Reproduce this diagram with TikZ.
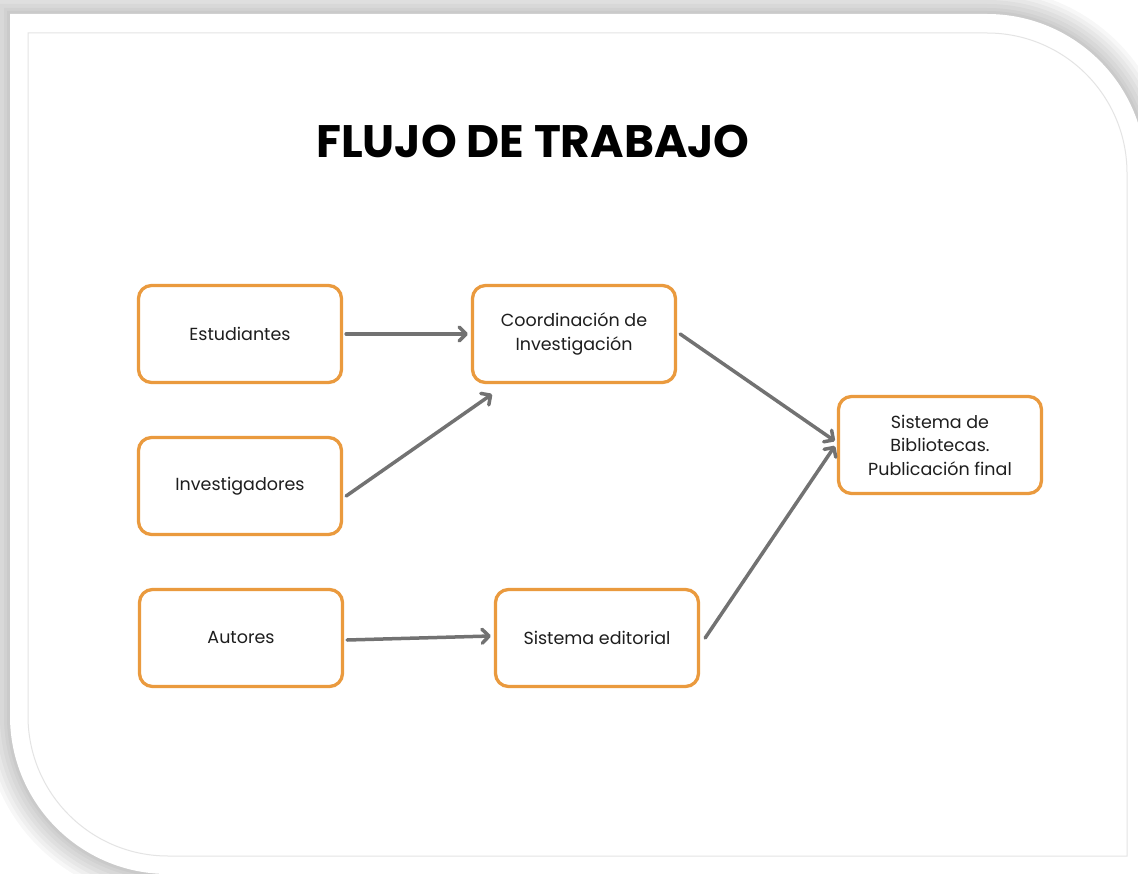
\documentclass[tikz,border=0pt]{standalone}
\usepackage{fontspec}
\setmainfont{Poppins}
\usetikzlibrary{arrows.meta}
\definecolor{boxorange}{HTML}{EA9A3E}
\definecolor{arrowgray}{HTML}{727272}
\definecolor{txtdark}{HTML}{1E1E1E}
\definecolor{innerline}{HTML}{E4E4E4}
\tikzset{
  flowbox/.style={draw=boxorange, line width=3.3pt, rounded corners=13pt,
    minimum width=203pt, minimum height=97pt, inner sep=0pt, align=center,
    font=\fontsize{17.5}{23.5}\selectfont, text=txtdark, fill=white},
  flowarrow/.style={draw=arrowgray, line width=3.5pt, line cap=round,
    -{Straight Barb[length=7pt,width=14pt,round]}},
  titletext/.style={font=\fontsize{45.5}{52}\selectfont\bfseries, text=black},
}
\newcommand\cardshape[1]{({10-#1},{14-#1}) -- (987,{14-#1})
  arc[start angle=90,end angle=0,radius={(159+#1)*1pt}]
  -- ({1146+#1},{874+#1}) -- (168,{874+#1})
  arc[start angle=-90,end angle=-180,radius={(158+#1)*1pt}] -- cycle}
\begin{document}
\begin{tikzpicture}[x=1pt,y=-1pt]
  \useasboundingbox (0,0) rectangle (1138,874);
  \clip (0,0) rectangle (1138,874);
  \fill[white] (0,0) rectangle (1138,874);
  % shadow
  \foreach \s in {26,22,18,14,10,6,3}
    \fill[black,opacity=0.032] \cardshape{\s};
  % card
  \fill[white] \cardshape{0};
  \draw[line width=1pt, draw=innerline] (28,33) -- (987,33)
    arc[start angle=90,end angle=0,radius=140pt] -- (1127,856) -- (168,856)
    arc[start angle=-90,end angle=-180,radius=140pt] -- cycle;
  % title
  \node[titletext] (title) at (533,141) {FLUJO DE TRABAJO};
  % boxes
  \node[flowbox] (est) at (240,334) {Estudiantes};
  \node[flowbox] (coord) at (574,334) {Coordinación de\\Investigación};
  \node[flowbox] (inv) at (240,486) {Investigadores};
  \node[flowbox] (aut) at (241,638) {Autores};
  \node[flowbox] (ed) at (597,638) {Sistema editorial};
  \node[flowbox] (bib) at (940,445) {Sistema de\\Bibliotecas.\\Publicación final};
  % arrows
  \draw[flowarrow] ([xshift=3pt]est.east) -- ([xshift=-3pt]coord.west);
  \draw[flowarrow] ([xshift=3pt,yshift=-10pt]inv.east) -- ([xshift=-82pt,yshift=-10pt]coord.south);
  \draw[flowarrow] ([xshift=3pt]coord.east) -- ([xshift=-2pt,yshift=4pt]bib.west);
  \draw[flowarrow] ([xshift=3pt,yshift=-2pt]aut.east) -- ([xshift=-3pt,yshift=2pt]ed.west);
  \draw[flowarrow] ([xshift=5pt]ed.east) -- ([xshift=-2pt,yshift=-1pt]bib.west);
\end{tikzpicture}
\end{document}
